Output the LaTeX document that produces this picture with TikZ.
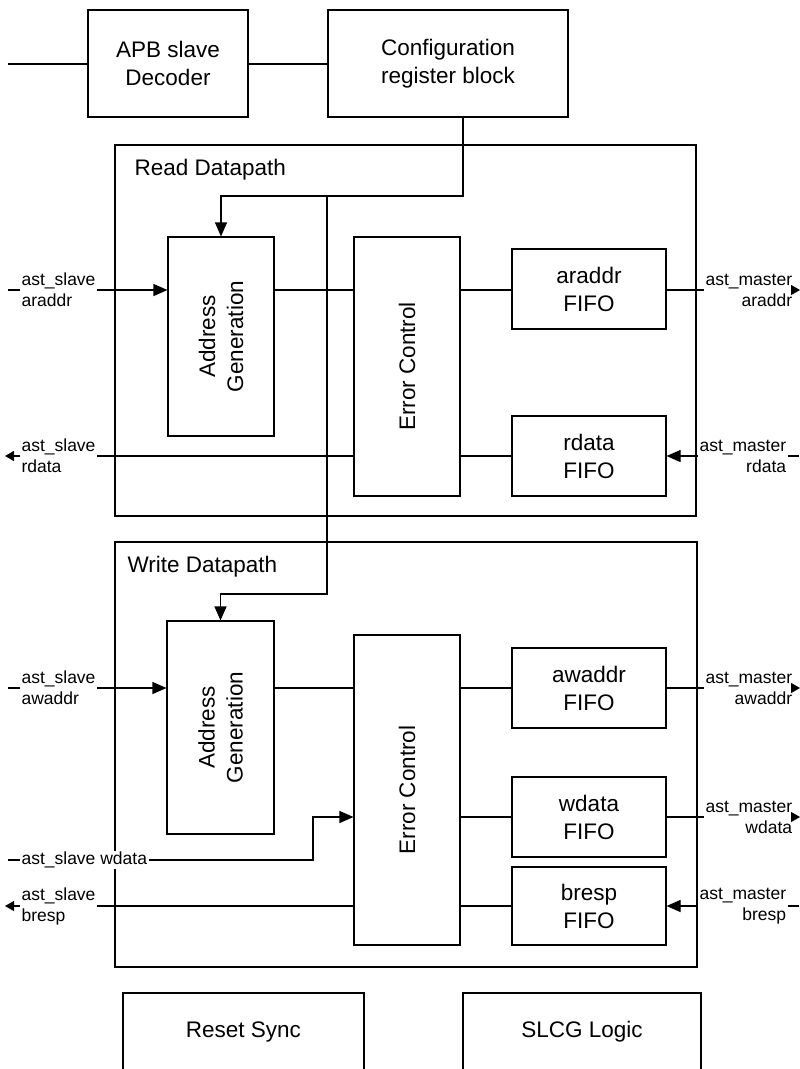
\documentclass[tikz,border=0pt]{standalone}
\usepackage{fontspec}
\setmainfont{Liberation Sans}
\usetikzlibrary{arrows.meta,calc}
\begin{document}
\begin{tikzpicture}[x=1pt,y=-1pt, line width=1.1pt,
  blk/.style={draw, line width=1.1pt, inner sep=0pt, align=center, font=\fontsize{22.5}{28}\selectfont},
  frame/.style={draw, line width=1.1pt, inner sep=0pt},
  title/.style={anchor=west, inner sep=0pt, font=\fontsize{22.5}{26}\selectfont},
  sig/.style={inner sep=1pt, font=\fontsize{17.5}{21}\selectfont},
  arr/.style={-{Triangle[length=14pt,width=12pt]}},
  sarr/.style={-{Triangle[length=9pt,width=10pt]}},
  plain/.style={inner sep=0pt, font=\fontsize{22.5}{28}\selectfont}
]
\useasboundingbox (0,0) rectangle (800,1069);

% top blocks
\node[blk, minimum width=160pt, minimum height=107pt] (apb) at (168,63.5) {APB slave\\Decoder};
\node[blk, minimum width=240pt, minimum height=107pt] (cfg) at (448,63.5) {Configuration\\register block};
\coordinate (apbin) at (8,64);
\draw (apbin) -- (apb.west |- apbin);
\draw (apb.east |- apbin) -- (cfg.west |- apbin);

% Read datapath
\node[frame, minimum width=581pt, minimum height=371pt] (rdp) at (405.5,330.5) {};
\node[title] (rdt) at (134,170) {Read Datapath};
\node[blk, minimum width=106pt, minimum height=199pt] (rAG) at (221,336.5) {};
\node[plain, rotate=90, align=center] (rAGt) at (rAG.center) {Address\\Generation};
\node[blk, minimum width=106pt, minimum height=259pt] (rEC) at (407,366.5) {};
\node[plain, rotate=90] (rECt) at (rEC.center) {Error Control};
\node[blk, minimum width=154pt, minimum height=80pt] (rAF) at (589,289) {araddr\\FIFO};
\node[blk, minimum width=154pt, minimum height=80pt] (rDF) at (589,456) {rdata\\FIFO};

% config feed
\coordinate (j1) at (463,196);
\coordinate (j2) at (327,196);
\coordinate (j3) at (327,594);
\draw[arr] (cfg.south -| j1) -- (j1) -| (rAG.north);

% read signals
\coordinate (arIn) at (8,290);
\node[sig, anchor=west, align=left] (arL) at (20,290) {ast\_slave\\araddr};
\draw (arIn) -- (arL.west |- arIn);
\draw[arr] (arL.east |- arIn) -- (rAG.west |- arIn);
\draw (rAG.east |- arIn) -- (rEC.west |- arIn);
\draw (rEC.east |- arIn) -- (rAF.west |- arIn);
\node[sig, anchor=west, align=right] (arO) at (704,290) {ast\_master\\araddr};
\coordinate (arOut) at (800,290);
\draw (rAF.east |- arIn) -- (arO.west |- arIn);
\draw[sarr] (arO.east |- arIn) -- (arOut);

\coordinate (rdOut) at (5,456);
\node[sig, anchor=west, align=left] (rdL) at (20,456) {ast\_slave\\rdata};
\draw[sarr] (rdL.west |- rdOut) -- (rdOut);
\draw (rEC.west |- rdOut) -- (rdL.east |- rdOut);
\draw (rEC.east |- rdOut) -- (rDF.west |- rdOut);
\node[sig, anchor=west, align=right] (rdM) at (698,456) {ast\_master\\rdata};
\coordinate (rdIn) at (799,456);
\draw (rdIn) -- (rdM.east |- rdIn);
\draw[arr] (rdM.west |- rdIn) -- (rDF.east |- rdIn);

% Write datapath
\node[frame, minimum width=582pt, minimum height=425pt] (wdp) at (406,754.5) {};
\node[title] (wdt) at (127,567) {Write Datapath};
\node[blk, minimum width=107pt, minimum height=213pt] (wAG) at (220.5,727.5) {};
\node[plain, rotate=90, align=center] (wAGt) at (wAG.center) {Address\\Generation};
\node[blk, minimum width=106pt, minimum height=310pt] (wEC) at (407,790) {};
\node[plain, rotate=90] (wECt) at (wEC.center) {Error Control};
\node[blk, minimum width=154pt, minimum height=80pt] (wAF) at (589,688) {awaddr\\FIFO};
\node[blk, minimum width=154pt, minimum height=80pt] (wWF) at (589,817) {wdata\\FIFO};
\node[blk, minimum width=154pt, minimum height=78pt] (wBF) at (589,906) {bresp\\FIFO};
\draw[arr] (j2) -- (j3) -| (wAG.north);

% write signals
\coordinate (awIn) at (8,688);
\node[sig, anchor=west, align=left] (awL) at (20,688) {ast\_slave\\awaddr};
\draw (awIn) -- (awL.west |- awIn);
\draw[arr] (awL.east |- awIn) -- (wAG.west |- awIn);
\draw (wAG.east |- awIn) -- (wEC.west |- awIn);
\draw (wEC.east |- awIn) -- (wAF.west |- awIn);
\node[sig, anchor=west, align=right] (awO) at (704,688) {ast\_master\\awaddr};
\coordinate (awOut) at (800,688);
\draw (wAF.east |- awIn) -- (awO.west |- awIn);
\draw[sarr] (awO.east |- awIn) -- (awOut);

\coordinate (wdIn) at (8,860);
\node[sig, anchor=west, fill=white] (wdL) at (20,860) {ast\_slave wdata};
\coordinate (wb1) at (313,860);
\coordinate (wb2) at (313,817);
\draw (wdIn) -- (wdL.west |- wdIn);
\draw[arr] (wdL.east |- wdIn) -- (wb1) -- (wb2) -- (wEC.west |- wb2);
\draw (wEC.east |- wb2) -- (wWF.west |- wb2);
\node[sig, anchor=west, align=right] (wdO) at (704,817) {ast\_master\\wdata};
\coordinate (wdOut) at (800,817);
\draw (wWF.east |- wb2) -- (wdO.west |- wb2);
\draw[sarr] (wdO.east |- wb2) -- (wdOut);

\coordinate (brOut) at (5,906);
\node[sig, anchor=west, align=left] (brL) at (20,906) {ast\_slave\\bresp};
\draw[sarr] (brL.west |- brOut) -- (brOut);
\draw (wEC.west |- brOut) -- (brL.east |- brOut);
\draw (wEC.east |- brOut) -- (wBF.west |- brOut);
\node[sig, anchor=west, align=right] (brM) at (698,906) {ast\_master\\bresp};
\coordinate (brIn) at (799,906);
\draw (brIn) -- (brM.east |- brIn);
\draw[arr] (brM.west |- brIn) -- (wBF.east |- brIn);

% bottom blocks (open at the bottom)
\draw (123,1069) -- (123,993) -- (364,993) -- (364,1069);
\draw (463,1069) -- (463,993) -- (701,993) -- (701,1069);
\node[plain] (rst) at (243.5,1032) {Reset Sync};
\node[plain] (slcg) at (582,1032) {SLCG Logic};
\end{tikzpicture}
\end{document}
